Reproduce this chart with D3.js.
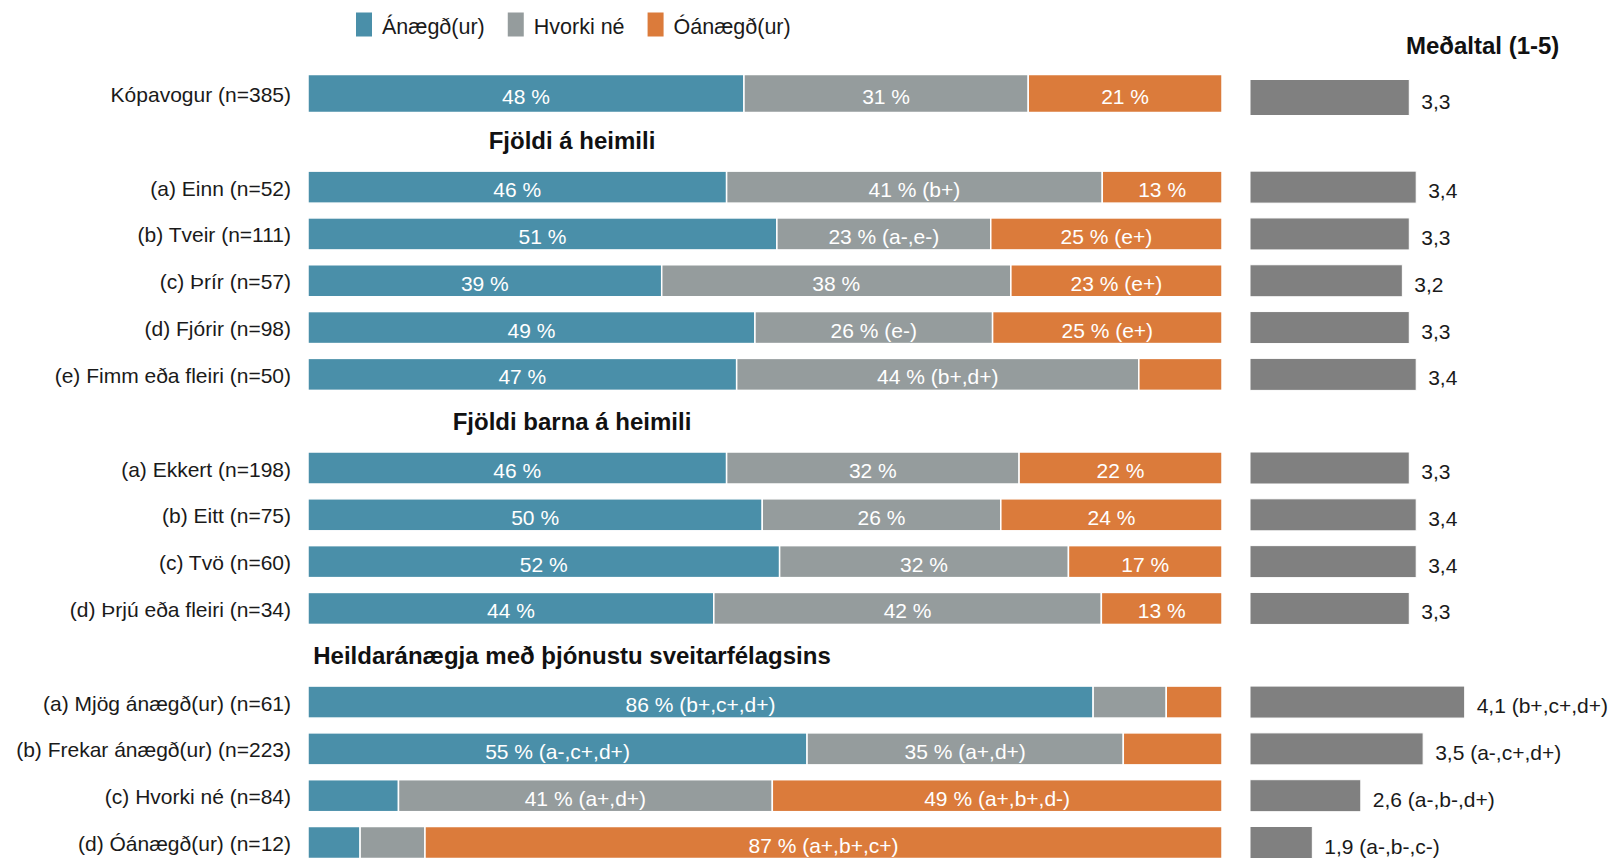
<!DOCTYPE html>
<html>
<head>
<meta charset="utf-8">
<script src="https://cdn.jsdelivr.net/npm/d3@7"></script>
<style>
  html, body { margin: 0; padding: 0; background: #ffffff; }
  svg { display: block; }
  text { font-family: "Liberation Sans", Arial, Helvetica, sans-serif; }
</style>
</head>
<body>
<svg id="chart" width="1614" height="861"></svg>
<script>
// ---------------- DATA ----------------
const seriesNames = ["Ánægð(ur)", "Hvorki né", "Óánægð(ur)"];
const seriesColors = ["#4a8fa9", "#959c9d", "#db7b3b"];

const rowLabels = [
  "Kópavogur (n=385)",
  "(a) Einn (n=52)",
  "(b) Tveir (n=111)",
  "(c) Þrír (n=57)",
  "(d) Fjórir (n=98)",
  "(e) Fimm eða fleiri (n=50)",
  "(a) Ekkert (n=198)",
  "(b) Eitt (n=75)",
  "(c) Tvö (n=60)",
  "(d) Þrjú eða fleiri (n=34)",
  "(a) Mjög ánægð(ur) (n=61)",
  "(b) Frekar ánægð(ur) (n=223)",
  "(c) Hvorki né (n=84)",
  "(d) Óánægð(ur) (n=12)"
];
// section each row belongs to (0 = total)
const rowSection = [0, 1, 1, 1, 1, 1, 2, 2, 2, 2, 3, 3, 3, 3];
const sectionTitles = ["", "Fjöldi á heimili", "Fjöldi barna á heimili", "Heildaránægja með þjónustu sveitarfélagsins"];

const satisfied    = [47.7, 45.8, 51.3, 38.7, 48.9, 46.9, 45.8, 49.7, 51.6, 44.4, 85.9, 54.6,  9.9,  5.7];
const neutral      = [31.1, 41.1, 23.4, 38.2, 26.0, 44.0, 32.0, 26.1, 31.6, 42.4,  8.0, 34.6, 40.9,  7.1];
const dissatisfied = [21.2, 13.1, 25.3, 23.1, 25.1,  9.1, 22.2, 24.2, 16.8, 13.2,  6.1, 10.8, 49.2, 87.2];

const satisfiedSig    = ["", "", "", "", "", "", "", "", "", "", "(b+,c+,d+)", "(a-,c+,d+)", "", ""];
const neutralSig      = ["", "(b+)", "(a-,e-)", "", "(e-)", "(b+,d+)", "", "", "", "", "", "(a+,d+)", "(a+,d+)", ""];
const dissatisfiedSig = ["", "", "(e+)", "(e+)", "(e+)", "", "", "", "", "", "", "", "(a+,b+,d-)", "(a+,b+,c+)"];

const means   = [3.3, 3.4, 3.3, 3.2, 3.3, 3.4, 3.3, 3.4, 3.4, 3.3, 4.1, 3.5, 2.6, 1.9];
const meanSig = ["", "", "", "", "", "", "", "", "", "", "(b+,c+,d+)", "(a-,c+,d+)", "(a-,b-,d+)", "(a-,b-,c-)"];

const meanTitle = "Meðaltal (1-5)";
const meanDomain = [1, 5];

// ---------------- LAYOUT ----------------
const svg = d3.select("#chart");
const FONT = 21;

// slots: rows and section headings, in vertical order
const slots = [];
rowLabels.forEach((lab, i) => {
  if (i > 0 && rowSection[i] !== rowSection[i - 1]) {
    slots.push({ type: "head", key: "h" + rowSection[i], title: sectionTitles[rowSection[i]] });
  }
  slots.push({ type: "row", key: "r" + i, i: i });
});

const y = d3.scalePoint().domain(slots.map(s => s.key)).range([93.5, 842.5]);
const x = d3.scaleLinear().domain([0, 100]).range([308, 1222]);
const xm = d3.scaleLinear().domain(meanDomain).range([1250, 1527]);

const rows = rowLabels.map((lab, i) => ({
  i, label: lab,
  vals: [satisfied[i], neutral[i], dissatisfied[i]],
  sigs: [satisfiedSig[i], neutralSig[i], dissatisfiedSig[i]],
  mean: means[i], meanSig: meanSig[i]
}));

const barH = i => (i === 0 ? 38 : 32);
const meanH = i => (i === 0 ? 36 : 32);

// stacked segments
const stackData = rows.map(r => ({ key: "r" + r.i, s0: r.vals[0], s1: r.vals[1], s2: r.vals[2] }));
const stack = d3.stack().keys(["s0", "s1", "s2"]);
const series = stack(stackData);

const gBars = svg.append("g");
series.forEach((ser, si) => {
  ser.forEach((d, ri) => {
    const cy = y("r" + ri);
    const h = barH(ri);
    gBars.append("rect")
      .attr("x", x(d[0]))
      .attr("y", cy - h / 2)
      .attr("width", Math.max(0, x(d[1]) - x(d[0])))
      .attr("height", h)
      .attr("fill", seriesColors[si])
      .attr("stroke", "#ffffff")
      .attr("stroke-width", 1.5);
    const v = rows[ri].vals[si];
    if (v >= 12) {
      const sig = rows[ri].sigs[si];
      gBars.append("text")
        .attr("x", (x(d[0]) + x(d[1])) / 2)
        .attr("y", cy + 10)
        .attr("text-anchor", "middle")
        .attr("font-size", FONT)
        .attr("fill", "#ffffff")
        .text(Math.round(v) + " %" + (sig ? " " + sig : ""));
    }
  });
});

// row labels
svg.append("g").selectAll("text").data(rows).join("text")
  .attr("x", 291)
  .attr("y", d => y("r" + d.i) + 8.5)
  .attr("text-anchor", "end")
  .attr("font-size", FONT)
  .attr("fill", "#1a1a1a")
  .text(d => d.label);

// section headings
svg.append("g").selectAll("text").data(slots.filter(s => s.type === "head")).join("text")
  .attr("x", 572)
  .attr("y", d => y(d.key) + 9)
  .attr("text-anchor", "middle")
  .attr("font-size", 24)
  .attr("font-weight", "bold")
  .attr("fill", "#111111")
  .text(d => d.title);

// mean bars
const gMean = svg.append("g");
gMean.selectAll("rect").data(rows).join("rect")
  .attr("x", xm(meanDomain[0]))
  .attr("y", d => y("r" + d.i) - meanH(d.i) / 2 + (d.i === 0 ? 4 : 0))
  .attr("width", d => xm(d.mean) - xm(meanDomain[0]))
  .attr("height", d => meanH(d.i))
  .attr("fill", "#808080")
  .attr("stroke", "#ffffff")
  .attr("stroke-width", 1);
gMean.selectAll("text").data(rows).join("text")
  .attr("x", d => xm(d.mean) + 12)
  .attr("y", d => y("r" + d.i) + 11 + (d.i === 0 ? 4 : 0))
  .attr("font-size", FONT)
  .attr("fill", "#1a1a1a")
  .text(d => d3.format(".1f")(d.mean).replace(".", ",") + (d.meanSig ? " " + d.meanSig : ""));

svg.append("text")
  .attr("x", 1406)
  .attr("y", 53.5)
  .attr("font-size", 24)
  .attr("font-weight", "bold")
  .attr("fill", "#111111")
  .text(meanTitle);

// legend
const gLeg = svg.append("g");
let lx = 356;
seriesNames.forEach((name, i) => {
  gLeg.append("rect").attr("x", lx).attr("y", 12.5).attr("width", 16).attr("height", 24)
    .attr("fill", seriesColors[i]);
  const t = gLeg.append("text").attr("x", lx + 26).attr("y", 34)
    .attr("font-size", 21.5).attr("fill", "#1a1a1a").text(name);
  lx = lx + 26 + t.node().getComputedTextLength() + 23;
});
</script>
</body>
</html>
